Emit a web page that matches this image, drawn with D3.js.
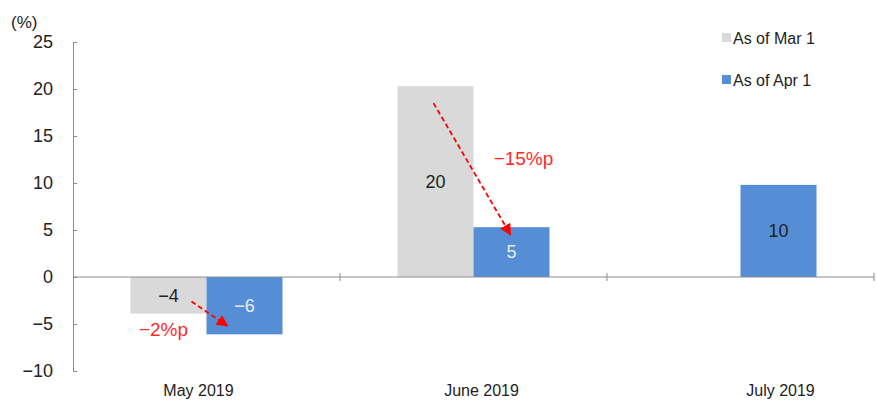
<!DOCTYPE html>
<html>
<head>
<meta charset="utf-8">
<script src="https://cdn.jsdelivr.net/npm/d3@7"></script>
<style>
  body { margin: 0; background: #fff; }
  svg { font-family: "Liberation Sans", Arial, sans-serif; }
</style>
</head>
<body>
<div id="chart"></div>
<script>
const months = ['May 2019', 'June 2019', 'July 2019'];
const seriesNames = ['As of Mar 1', 'As of Apr 1'];
const marValues = [-3.9, 20.3, null];
const aprValues = [-6.1, 5.3, 9.8];
const marLabels = ['\u22124', '20', null];
const aprLabels = ['\u22126', '5', '10'];
const yTicks = [-10, -5, 0, 5, 10, 15, 20, 25];
const changeLabels = ['\u22122%p', '\u221215%p'];

const colors = ['#d9d9d9', '#558ed5'];
const width = 877, height = 404;
const margin = { top: 42, right: 3, bottom: 33, left: 73 };

const svg = d3.select('#chart').append('svg')
    .attr('width', width)
    .attr('height', height);

const x = d3.scaleBand()
    .domain(months)
    .range([margin.left, width - margin.right]);

const y = d3.scaleLinear()
    .domain([-10, 25])
    .range([height - margin.bottom, margin.top]);

const barW = 76;

// gray on the left half of each pair, blue on the right
const bars = [];
months.forEach((m, i) => {
    const c = x(m) + x.bandwidth() / 2;
    if (marValues[i] !== null) bars.push({ v: marValues[i], x0: c - barW, s: 0, label: marLabels[i] });
    if (aprValues[i] !== null) bars.push({ v: aprValues[i], x0: c, s: 1, label: aprLabels[i] });
});

svg.selectAll('rect.bar')
    .data(bars)
    .enter().append('rect')
    .attr('class', 'bar')
    .attr('x', d => d.x0)
    .attr('width', barW)
    .attr('y', d => y(Math.max(0, d.v)))
    .attr('height', d => Math.abs(y(d.v) - y(0)))
    .attr('fill', d => colors[d.s]);

svg.selectAll('text.val')
    .data(bars)
    .enter().append('text')
    .attr('class', 'val')
    .attr('x', d => d.x0 + barW / 2)
    .attr('y', d => (y(d.v) + y(0)) / 2)
    .attr('dy', '0.35em')
    .attr('text-anchor', 'middle')
    .attr('font-size', 18)
    .attr('fill', d => (d.s === 1 && d.v < 8) ? '#e6eefa' : '#222')
    .text(d => d.label);

// y axis
const yAxis = d3.axisLeft(y).tickValues(yTicks).tickSize(-4).tickPadding(20);
const gy = svg.append('g')
    .attr('transform', `translate(${margin.left},0)`)
    .call(yAxis);
gy.select('.domain').attr('stroke', '#8c8c8c');
gy.selectAll('.tick line').attr('stroke', '#8c8c8c');
gy.selectAll('.tick text').attr('font-size', 18).attr('fill', '#222')
    .attr('font-family', '"Liberation Sans", Arial, sans-serif');

svg.append('text')
    .attr('x', 11).attr('y', 28)
    .attr('font-size', 17).attr('fill', '#222')
    .text('(%)');

// x axis on the zero line
const gx = svg.append('g')
    .attr('transform', `translate(0,${y(0)})`);
gx.append('line')
    .attr('x1', margin.left).attr('x2', width - margin.right)
    .attr('stroke', '#8c8c8c');
gx.selectAll('line.tk')
    .data(months)
    .enter().append('line')
    .attr('class', 'tk')
    .attr('x1', d => x(d) + x.bandwidth()).attr('x2', d => x(d) + x.bandwidth())
    .attr('y1', -4).attr('y2', 4)
    .attr('stroke', '#8c8c8c');

const labelShift = [-8, 8, 40];
svg.selectAll('text.cat')
    .data(months)
    .enter().append('text')
    .attr('class', 'cat')
    .attr('x', (d, i) => x(d) + x.bandwidth() / 2 + labelShift[i])
    .attr('y', 396)
    .attr('text-anchor', 'middle')
    .attr('font-size', 16)
    .attr('fill', '#222')
    .text(d => d);

// legend
const lg = svg.selectAll('g.leg')
    .data(seriesNames)
    .enter().append('g')
    .attr('class', 'leg')
    .attr('transform', (d, i) => `translate(722,${33 + i * 42})`);
lg.append('rect')
    .attr('width', 9).attr('height', 9)
    .attr('fill', (d, i) => colors[i]);
lg.append('text')
    .attr('x', 11).attr('y', 5)
    .attr('dy', '0.35em')
    .attr('font-size', 16)
    .attr('fill', '#222')
    .text(d => d);

// change arrows
svg.append('defs').append('marker')
    .attr('id', 'arr')
    .attr('viewBox', '0 0 10 10')
    .attr('refX', 9).attr('refY', 5)
    .attr('markerWidth', 6.5).attr('markerHeight', 6.5)
    .attr('orient', 'auto')
    .append('path').attr('d', 'M0,0L10,5L0,10Z').attr('fill', '#ff0000');

const arrows = [
    { x1: x(months[0]) + x.bandwidth() / 2 - 15, y1: y(-2.6), x2: x(months[0]) + x.bandwidth() / 2 + 21, y2: y(-5.2) },
    { x1: x(months[1]) + x.bandwidth() / 2 - 40, y1: y(18.5), x2: x(months[1]) + x.bandwidth() / 2 + 37, y2: y(4.5) }
];
svg.selectAll('line.arrow')
    .data(arrows)
    .enter().append('line')
    .attr('class', 'arrow')
    .attr('x1', d => d.x1).attr('y1', d => d.y1)
    .attr('x2', d => d.x2).attr('y2', d => d.y2)
    .attr('stroke', '#ff0000')
    .attr('stroke-width', 1.8)
    .attr('stroke-dasharray', '5,3')
    .attr('marker-end', 'url(#arr)');

const chgPos = [
    { x: x(months[0]) + x.bandwidth() / 2 - 43, v: -5.6 },
    { x: x(months[1]) + x.bandwidth() / 2 + 50, v: 12.6 }
];
svg.selectAll('text.chg')
    .data(changeLabels)
    .enter().append('text')
    .attr('class', 'chg')
    .attr('x', (d, i) => chgPos[i].x)
    .attr('y', (d, i) => y(chgPos[i].v))
    .attr('dy', '0.35em')
    .attr('text-anchor', 'middle')
    .attr('font-size', 19)
    .attr('fill', '#ff2a2a')
    .text(d => d);
</script>
</body>
</html>
